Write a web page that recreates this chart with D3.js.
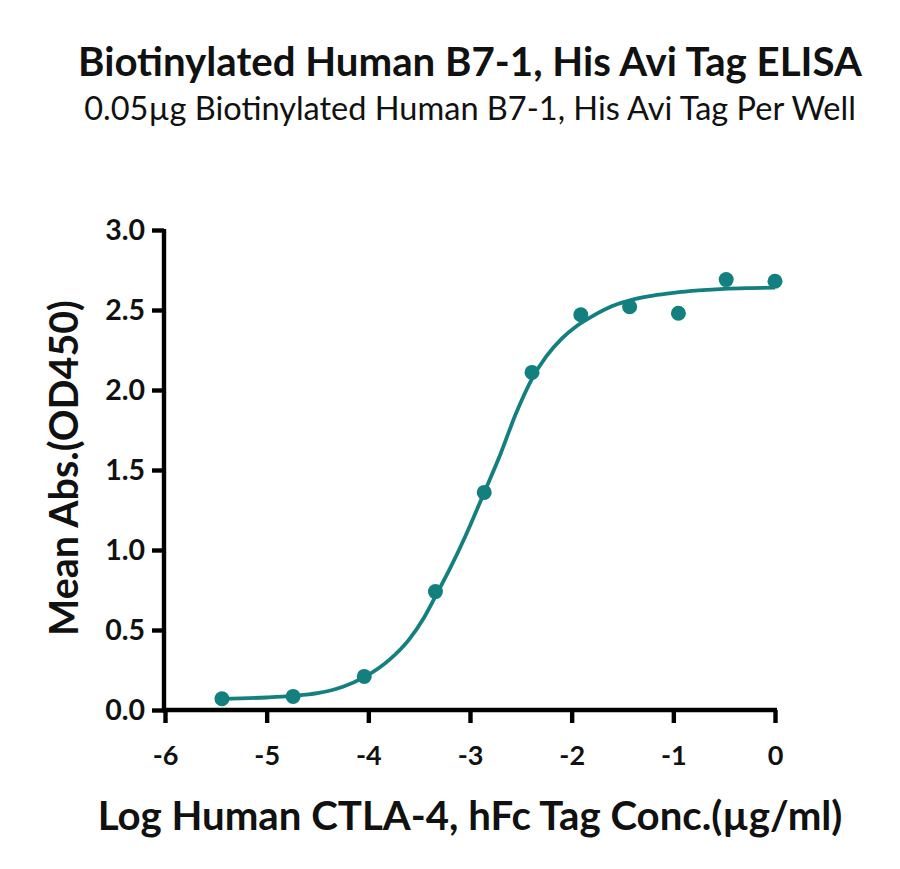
<!DOCTYPE html>
<html>
<head>
<meta charset="utf-8">
<script src="https://cdn.jsdelivr.net/npm/d3@7"></script>
<style>
  html, body { margin: 0; padding: 0; background: #fff; }
  svg text { font-family: Lato, "Noto Sans", sans-serif; }
</style>
</head>
<body>
<svg id="chart" width="900" height="869"></svg>
<script>
// ---- Data ----
const titleText = "Biotinylated Human B7-1, His Avi Tag ELISA";
const subtitleText = "0.05µg Biotinylated Human B7-1, His Avi Tag Per Well";
const xLabelText = "Log Human CTLA-4, hFc Tag Conc.(µg/ml)";
const yLabelText = "Mean Abs.(OD450)";

const xTicks = [-6, -5, -4, -3, -2, -1, 0];
const xTickLabels = ["-6", "-5", "-4", "-3", "-2", "-1", "0"];
const yTicks = [0, 0.5, 1.0, 1.5, 2.0, 2.5, 3.0];
const yTickLabels = ["0.0", "0.5", "1.0", "1.5", "2.0", "2.5", "3.0"];

// measured points
const logConc = [-5.44, -4.74, -4.04, -3.34, -2.86, -2.39, -1.91, -1.43, -0.95, -0.48, 0];
const meanAbs = [0.07, 0.085, 0.21, 0.74, 1.36, 2.11, 2.47, 2.52, 2.48, 2.69, 2.68];

// fitted curve
const curveX = [-5.44, -5.0, -4.74, -4.5, -4.25, -4.04, -3.8, -3.6, -3.45, -3.34, -3.2, -3.05, -2.86, -2.7, -2.55, -2.39, -2.25, -2.1, -1.95, -1.8, -1.6, -1.4, -1.2, -1.0, -0.75, -0.5, -0.25, 0];
const curveY = [0.07, 0.078, 0.088, 0.105, 0.145, 0.205, 0.31, 0.44, 0.58, 0.71, 0.88, 1.08, 1.36, 1.60, 1.85, 2.07, 2.21, 2.32, 2.40, 2.46, 2.525, 2.565, 2.59, 2.607, 2.622, 2.632, 2.637, 2.64];

const teal = "#13807f";

const svg = d3.select("#chart");
const x = d3.scaleLinear().domain([-6, 0]).range([165, 775]);
const y = d3.scaleLinear().domain([0, 3]).range([710, 230]);

function fitText(sel, target) {
  const n = sel.node();
  const w = n.getComputedTextLength();
  const fs = parseFloat(sel.attr("font-size"));
  sel.attr("font-size", fs * target / w);
}

// Titles
const t1 = svg.append("text").attr("x", 470).attr("y", 76).attr("text-anchor", "middle")
  .attr("font-size", 34).attr("font-weight", 700).attr("fill", "#111").text(titleText);
fitText(t1, 784);
const t2 = svg.append("text").attr("x", 470).attr("y", 120).attr("text-anchor", "middle")
  .attr("font-size", 26).attr("font-weight", 400).attr("fill", "#111").text(subtitleText);
fitText(t2, 772);

// Axes
const xAxis = svg.append("g").attr("transform", "translate(0,710)")
  .call(d3.axisBottom(x).tickValues(xTicks).tickSize(13).tickSizeOuter(0)
    .tickFormat((d, i) => xTickLabels[i]));
const yAxis = svg.append("g").attr("transform", "translate(164,0)")
  .call(d3.axisLeft(y).tickValues(yTicks).tickSize(12).tickSizeOuter(0)
    .tickFormat((d, i) => yTickLabels[i]));

[xAxis, yAxis].forEach(g => {
  g.select(".domain").attr("stroke", "#000").attr("stroke-width", 4.4);
  g.selectAll(".tick line").attr("stroke", "#000").attr("stroke-width", 4.4);
  g.selectAll(".tick text").attr("fill", "#111").attr("font-weight", 700)
    .style("font-family", "Lato, sans-serif");
});
xAxis.selectAll(".tick text").attr("font-size", 27).attr("dy", "0.71em").attr("y", 36);
yAxis.selectAll(".tick text").attr("font-size", 28.5).attr("x", -19);
xAxis.select(".domain").attr("d", `M${x(-6)-3},0H${x(0)+2}`);
yAxis.select(".domain").attr("d", `M0,${y(3)-1}V${y(0)+2}`);

// Axis titles
const xl = svg.append("text").attr("x", 470).attr("y", 830).attr("text-anchor", "middle")
  .attr("font-size", 32).attr("font-weight", 700).attr("fill", "#111").text(xLabelText);
fitText(xl, 745);
const yl = svg.append("text").attr("transform", "translate(78,468) rotate(-90)").attr("text-anchor", "middle")
  .attr("font-size", 30).attr("font-weight", 700).attr("fill", "#111").text(yLabelText);
fitText(yl, 336);

// Curve
const line = d3.line().x(d => x(d[0])).y(d => y(d[1])).curve(d3.curveMonotoneX);
svg.append("path").datum(curveX.map((v, i) => [v, curveY[i]]))
  .attr("d", line).attr("fill", "none").attr("stroke", teal).attr("stroke-width", 3.8);

// Points
svg.append("g").selectAll("circle").data(logConc.map((v, i) => [v, meanAbs[i]]))
  .join("circle").attr("cx", d => x(d[0])).attr("cy", d => y(d[1])).attr("r", 7.5).attr("fill", teal);
</script>
</body>
</html>
